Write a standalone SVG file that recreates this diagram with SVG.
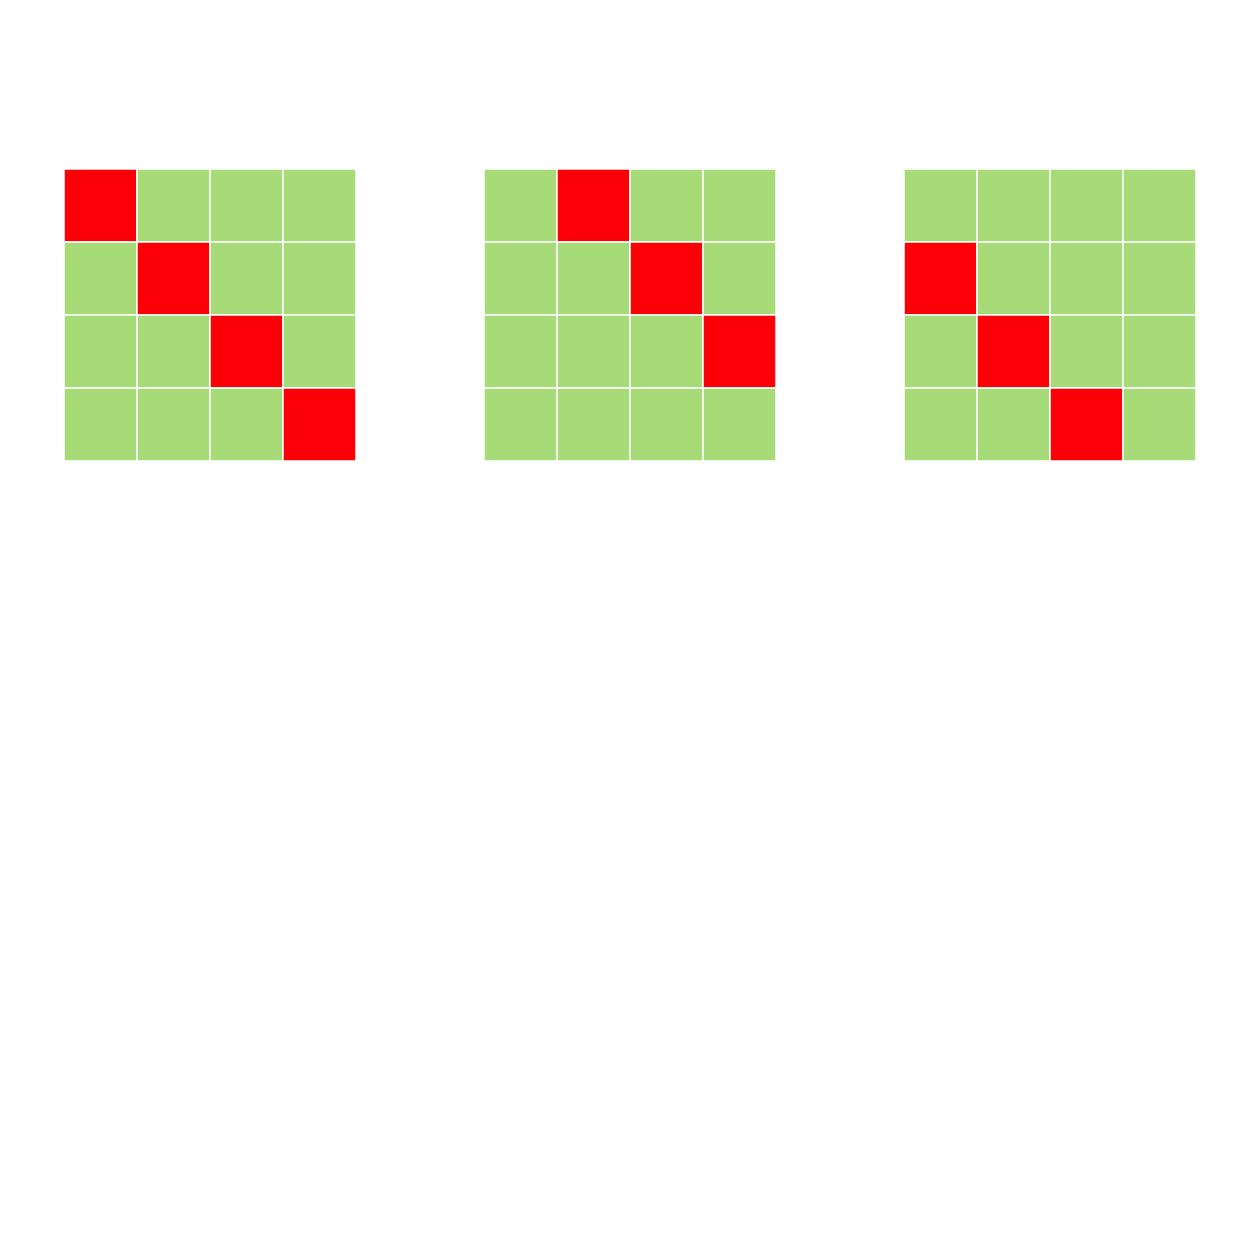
<svg xmlns="http://www.w3.org/2000/svg" width="1260" height="1260" viewBox="0 0 1260 1260">
<style>
.g{fill:#a6db78;stroke:#ffffff;stroke-width:1.5}
.r{fill:#fb0007;stroke:#ffffff;stroke-width:1.5}
</style>
<rect width="1260" height="1260" fill="#ffffff"/>
<g id="grid1" transform="translate(64,169)">
<rect class="r" x="0" y="0" width="73" height="73"/><rect class="g" x="73" y="0" width="73" height="73"/><rect class="g" x="146" y="0" width="73" height="73"/><rect class="g" x="219" y="0" width="73" height="73"/>
<rect class="g" x="0" y="73" width="73" height="73"/><rect class="r" x="73" y="73" width="73" height="73"/><rect class="g" x="146" y="73" width="73" height="73"/><rect class="g" x="219" y="73" width="73" height="73"/>
<rect class="g" x="0" y="146" width="73" height="73"/><rect class="g" x="73" y="146" width="73" height="73"/><rect class="r" x="146" y="146" width="73" height="73"/><rect class="g" x="219" y="146" width="73" height="73"/>
<rect class="g" x="0" y="219" width="73" height="73"/><rect class="g" x="73" y="219" width="73" height="73"/><rect class="g" x="146" y="219" width="73" height="73"/><rect class="r" x="219" y="219" width="73" height="73"/>
</g>
<g id="grid2" transform="translate(484,169)">
<rect class="g" x="0" y="0" width="73" height="73"/><rect class="r" x="73" y="0" width="73" height="73"/><rect class="g" x="146" y="0" width="73" height="73"/><rect class="g" x="219" y="0" width="73" height="73"/>
<rect class="g" x="0" y="73" width="73" height="73"/><rect class="g" x="73" y="73" width="73" height="73"/><rect class="r" x="146" y="73" width="73" height="73"/><rect class="g" x="219" y="73" width="73" height="73"/>
<rect class="g" x="0" y="146" width="73" height="73"/><rect class="g" x="73" y="146" width="73" height="73"/><rect class="g" x="146" y="146" width="73" height="73"/><rect class="r" x="219" y="146" width="73" height="73"/>
<rect class="g" x="0" y="219" width="73" height="73"/><rect class="g" x="73" y="219" width="73" height="73"/><rect class="g" x="146" y="219" width="73" height="73"/><rect class="g" x="219" y="219" width="73" height="73"/>
</g>
<g id="grid3" transform="translate(904,169)">
<rect class="g" x="0" y="0" width="73" height="73"/><rect class="g" x="73" y="0" width="73" height="73"/><rect class="g" x="146" y="0" width="73" height="73"/><rect class="g" x="219" y="0" width="73" height="73"/>
<rect class="r" x="0" y="73" width="73" height="73"/><rect class="g" x="73" y="73" width="73" height="73"/><rect class="g" x="146" y="73" width="73" height="73"/><rect class="g" x="219" y="73" width="73" height="73"/>
<rect class="g" x="0" y="146" width="73" height="73"/><rect class="r" x="73" y="146" width="73" height="73"/><rect class="g" x="146" y="146" width="73" height="73"/><rect class="g" x="219" y="146" width="73" height="73"/>
<rect class="g" x="0" y="219" width="73" height="73"/><rect class="g" x="73" y="219" width="73" height="73"/><rect class="r" x="146" y="219" width="73" height="73"/><rect class="g" x="219" y="219" width="73" height="73"/>
</g>
<g id="connectors"/>
</svg>
